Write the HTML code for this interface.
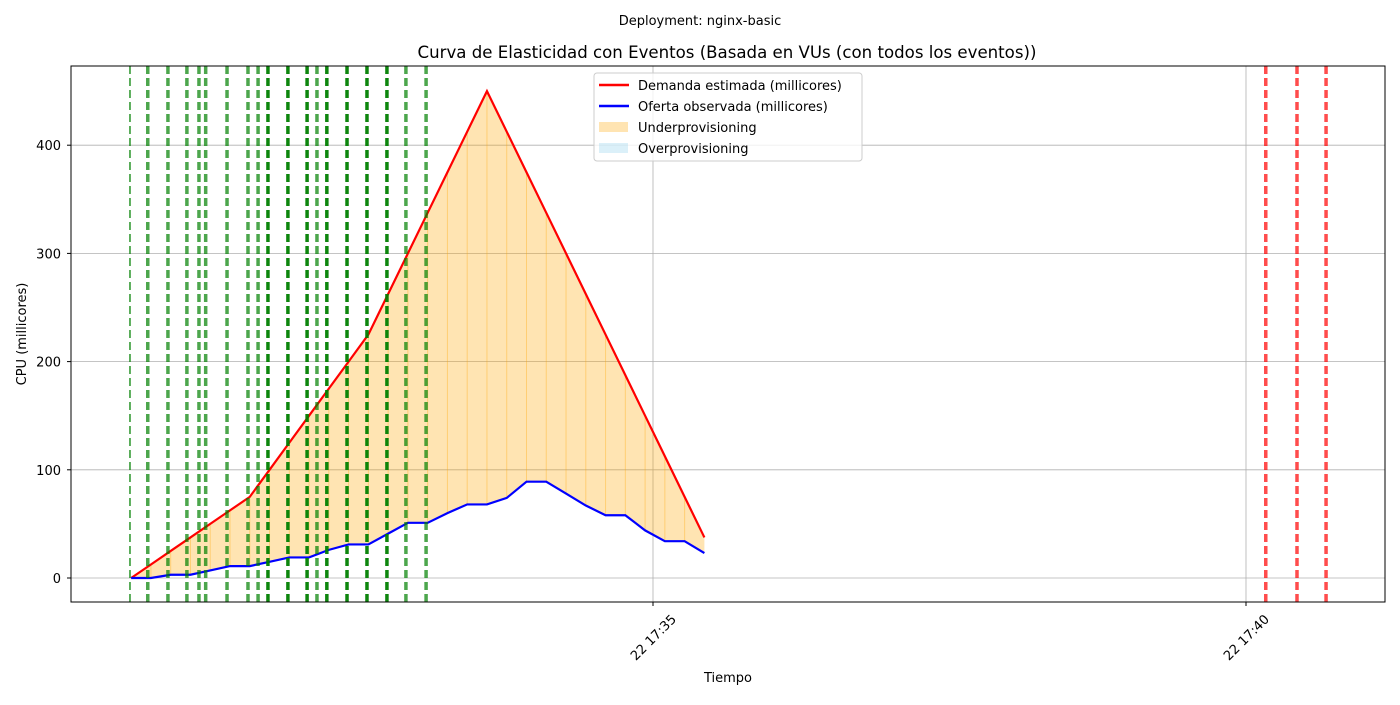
<!DOCTYPE html>
<html><head><meta charset="utf-8"><style>
body{margin:0;background:#fff;font-family:"Liberation Sans","DejaVu Sans",sans-serif}
svg text{font-family:"DejaVu Sans","Liberation Sans",sans-serif}
</style></head><body>
<svg id="chart" width="1400" height="700" xmlns="http://www.w3.org/2000/svg">
<text x="700" y="25" font-size="13" text-anchor="middle">Deployment: nginx-basic</text>
<text x="727" y="58" font-size="16.6" text-anchor="middle">Curva de Elasticidad con Eventos (Basada en VUs (con todos los eventos))</text>
<g id="grid"></g><g id="fill"></g><g id="lines"></g><g id="events"></g><g id="axes"></g>
<g>
<rect x="594" y="73" width="268" height="88" fill="#fff" fill-opacity="0.8" stroke="#ccc" rx="3"/>
<line x1="599" y1="85" x2="629" y2="85" stroke="red" stroke-width="2.5"/>
<text x="638" y="90" font-size="13">Demanda estimada (millicores)</text>
<line x1="599" y1="106" x2="629" y2="106" stroke="blue" stroke-width="2.5"/>
<text x="638" y="111" font-size="13">Oferta observada (millicores)</text>
<rect x="599" y="122" width="29" height="10" fill="orange" fill-opacity="0.3"/>
<text x="638" y="132" font-size="13">Underprovisioning</text>
<rect x="599" y="143" width="29" height="10" fill="skyblue" fill-opacity="0.3"/>
<text x="638" y="153" font-size="13">Overprovisioning</text>
</g>
<text x="728" y="682" font-size="13" text-anchor="middle">Tiempo</text>
<text transform="translate(26,334) rotate(-90)" font-size="13" text-anchor="middle">CPU (millicores)</text>
</svg>
<script>
const startSec = -264, stepSec = 10;
const demand = [0,12.5,25,37.5,50,62.5,75,100,125,150,175,200,225,262.5,300,337.5,375,412.5,450,412.5,375,337.5,300,262.5,225,187.5,150,112.5,75,37.5];
const supply = [0,0,3,3,7,11,11,15,19,19,26,31,31,41,51,51,60,68,68,74,89,89,78,67,58,58,44,34,34,23];
const scaleEvents = [-264.6,-255.6,-245.4,-235.8,-229.7,-226.3,-215.5,-204.9,-199.8,-194.8,-184.7,-175,-170,-165,-154.8,-144.7,-134.6,-125,-114.8];
const darkEvents = [-194.8,-184.7,-175,-165,-154.8,-144.7,-134.6];
const downEvents = [310,325.8,340.5];
const yTicks = [0,100,200,300,400];
const xTicks = [0,300];
const xTickLabels = ["22 17:35","22 17:40"];
const L=71,R=1385,T=66,B=602;
const X=s=>653+s*593/300;
const Y=v=>578-v*1.082;
const NS="http://www.w3.org/2000/svg";
function mk(parent,tag,attrs){const e=document.createElementNS(NS,tag);for(const k in attrs)e.setAttribute(k,attrs[k]);document.getElementById(parent).appendChild(e);return e;}
const tx=demand.map((_,i)=>X(startSec+i*stepSec));
yTicks.forEach(v=>{const g=mk('grid','line',{x1:L,x2:R,y1:Y(v),y2:Y(v),stroke:'#b0b0b0','stroke-width':0.8});

const t=mk('axes','text',{x:L-10,y:Y(v)+5,'font-size':13,'text-anchor':'end'});t.textContent=v;

mk('axes','line',{x1:L-4,x2:L,y1:Y(v),y2:Y(v),stroke:'#000'});});
xTicks.forEach((s,i)=>{const g=mk('grid','line',{x1:X(s),x2:X(s),y1:T,y2:B,stroke:'#b0b0b0','stroke-width':0.8});

mk('axes','line',{x1:X(s),x2:X(s),y1:B,y2:B+4,stroke:'#000'});
const t=mk('axes','text',{transform:`translate(${X(s)+24},${B+18}) rotate(-45)`,'font-size':13,'text-anchor':'end'});t.textContent=xTickLabels[i];
});
let pts=tx.map((x,i)=>x+','+Y(demand[i])).join(' ')+' '+tx.map((x,i)=>x+','+Y(supply[i])).reverse().join(' ');
const f=mk('fill','polygon',{points:pts,fill:'orange','fill-opacity':0.3});

tx.forEach((x,i)=>{if(i>0&&i<tx.length-1){const l=mk('fill','line',{x1:x,x2:x,y1:Y(demand[i]),y2:Y(supply[i]),stroke:'orange','stroke-opacity':0.35,'stroke-width':1});
}});
const d=mk('lines','polyline',{points:tx.map((x,i)=>x+','+Y(demand[i])).join(' '),fill:'none',stroke:'red','stroke-width':2.2});

const s=mk('lines','polyline',{points:tx.map((x,i)=>x+','+Y(supply[i])).join(' '),fill:'none',stroke:'blue','stroke-width':2.2});

scaleEvents.forEach((e,i)=>{const dark=darkEvents.includes(e);const l=mk('events','line',{x1:X(e),x2:X(e),y1:T,y2:B,stroke:'green','stroke-opacity':dark?0.95:0.7,'stroke-width':i==0?1.8:3.5,'stroke-dasharray':'8,4'});
});
downEvents.forEach(e=>{const l=mk('events','line',{x1:X(e),x2:X(e),y1:T,y2:B,stroke:'red','stroke-opacity':0.7,'stroke-width':3.5,'stroke-dasharray':'8,4'});
});
const fr=mk('axes','rect',{x:L,y:T,width:R-L,height:B-T,fill:'none',stroke:'#000','stroke-width':1});

</script>
</body></html>
